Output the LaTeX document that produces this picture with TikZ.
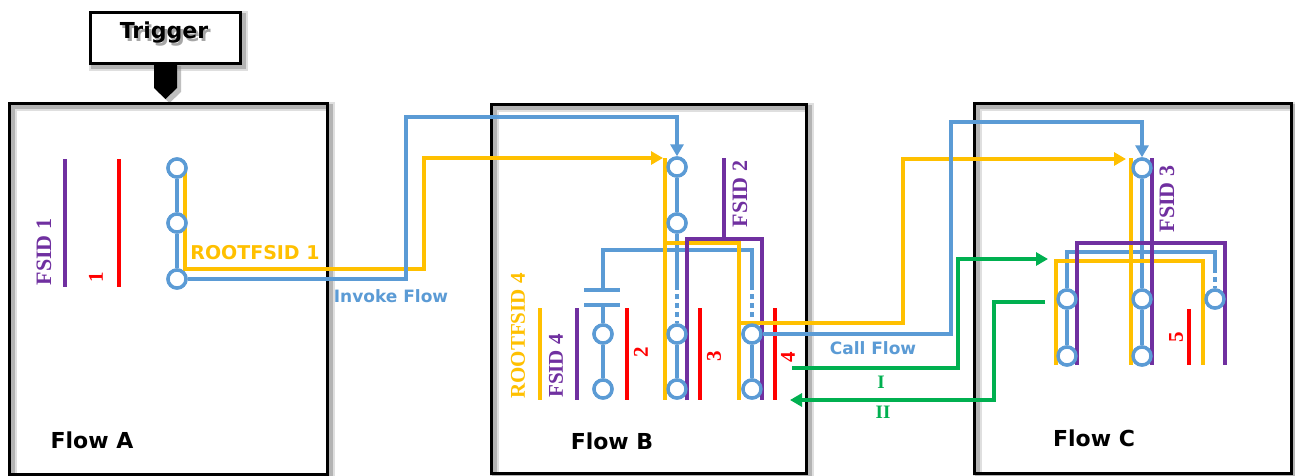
\documentclass[tikz,border=0pt]{standalone}
\usepackage{fontspec}
\setmainfont{DejaVu Sans}
\newfontfamily\serifb{Liberation Serif}
\usetikzlibrary{arrows.meta}
\definecolor{cblue}{HTML}{5B9BD5}
\definecolor{cyel}{HTML}{FFC000}
\definecolor{cpur}{HTML}{7030A0}
\definecolor{cred}{HTML}{FF0000}
\definecolor{cgreen}{HTML}{00B050}
\begin{document}
\begin{tikzpicture}[x=1pt,y=-1pt,
 bl/.style={draw=cblue,line width=3.4pt},
 ye/.style={draw=cyel,line width=3.4pt},
 pu/.style={draw=cpur,line width=3.4pt},
 re/.style={draw=cred,line width=3.4pt},
 gr/.style={draw=cgreen,line width=3.4pt},
 bldash/.style={bl,dash pattern=on 5pt off 4pt},
 ring/.style={circle,draw=cblue,line width=3.4pt,fill=white,minimum size=18pt,inner sep=0pt},
 tipb/.style={-{Triangle[length=12pt,width=13pt]}},
 flowbox/.style={draw=black,line width=3.4pt,inner sep=0pt,anchor=north west},
 shadeA/.style={draw=black!50,line width=9pt,opacity=0.25},
 shadeB/.style={draw=black!50,line width=5pt,opacity=0.45},
 big/.style={font=\fontsize{22}{26}\selectfont\bfseries,inner sep=0pt},
 lab/.style={font=\fontsize{17}{20}\selectfont\bfseries,inner sep=0pt},
 vlab/.style={font=\serifb\fontsize{22}{26}\selectfont\bfseries,inner sep=0pt,rotate=90},
 nlab/.style={font=\serifb\fontsize{21}{24}\selectfont\bfseries,inner sep=0pt,rotate=90},
 glab/.style={font=\serifb\fontsize{19}{22}\selectfont\bfseries,inner sep=0pt,text=cgreen},
]
\useasboundingbox (0,0) rectangle (1295,475);
\fill[white] (0,0) rectangle (1295,475);

% shadows
\foreach \s in {shadeA,shadeB}{
\draw[\s] (12,106) rectangle (330,477);
\draw[\s] (494,107) rectangle (809,476);
\draw[\s] (977,106) rectangle (1294,476);
\draw[\s] (93,15) rectangle (243,66);
}
\fill[black!45,opacity=0.55] (158,66) -- (181,66) -- (181,92) -- (169.5,103) -- (158,92) -- cycle;

% boxes
\node[flowbox,minimum width=318pt,minimum height=371pt] (FA) at (8,102) {};
\node[flowbox,minimum width=315pt,minimum height=369pt] (FB) at (490,103) {};
\node[flowbox,minimum width=317pt,minimum height=370pt] (FC) at (973,102) {};
\node[flowbox,minimum width=150pt,minimum height=51pt,fill=white] (TR) at (89,11) {};
\fill (154,62) -- (177,62) -- (177,88) -- (165.5,99) -- (154,88) -- cycle;
\node[big,text=black!35] at (166.5,35.5) {Trigger};
\node[big] (TT) at (164,33) {Trigger};

% labels
\node[big] (LA) at (92,440) {Flow A};
\node[big] (LB) at (612,441) {Flow B};
\node[big] (LC) at (1094,438) {Flow C};

% ---------------- Flow A
\draw[pu] (65,159) -- (65,287);
\draw[re] (119,159) -- (119,287);
\node[vlab,text=cpur] (fs1) at (44,252) {FSID 1};
\node[nlab,text=cred] (n1) at (96,277) {1};
\node[ring] (A1) at (177,168) {};
\node[ring] (A2) at (177,223) {};
\node[ring] (A3) at (177,279) {};
\draw[bl] (A1) -- (A2);
\draw[bl] (A2) -- (A3);
\node[lab,font=\fontsize{19}{22}\selectfont\bfseries,text=cyel] (r1) at (255,253) {ROOTFSID 1};
\node[lab,text=cblue] (inv) at (391,296) {Invoke Flow};

% ---------------- Flow B (static parts)
\draw[ye] (540,308) -- (540,400);
\draw[pu] (577,308) -- (577,400);
\draw[re] (627,308) -- (627,400);
\draw[re] (700,308) -- (700,400);
\draw[re] (775,308) -- (775,400);
\node[nlab,text=cyel] (r4) at (518,336) {ROOTFSID 4};
\node[nlab,text=cpur] (fs4) at (556,366) {FSID 4};
\node[nlab,text=cred] (n2) at (641,352) {2};
\node[nlab,text=cred] (n3) at (714,356) {3};
\node[nlab,text=cred] (n4) at (788,357) {4};
\node[vlab,text=cpur] (fs2) at (740,194) {FSID 2};

\node[ring] (Bm1) at (677,167) {};
\node[ring] (Bm2) at (677,223) {};
\node[ring] (Bm3) at (677,334) {};
\node[ring] (Bm4) at (677,389) {};
\node[ring] (Bl1) at (603,334) {};
\node[ring] (Bl2) at (603,389) {};
\node[ring] (Br1) at (752,334) {};
\node[ring] (Br2) at (752,389) {};

\coordinate (bmd) at (677,285);
\coordinate (brd) at (752,285);
\draw[bl] (Bm1) -- (Bm2);
\draw[bl] (Bm2) -- (bmd);
\draw[bldash] (bmd) -- (Bm3.north);
\draw[bl] (Bm3) -- (Bm4);
\draw[bl] (Bl1) -- (Bl2);
\draw[bl] (Bl1.north) -- (603,305);
\draw[bl] (584,305) -- (620,305);
\draw[bl] (584,290) -- (620,290);
\draw[bl] (603,290) -- (603,250) -- (brd |- 0,250) -- (brd);
\draw[bldash] (brd) -- (Br1.north);
\draw[bl] (Br1) -- (Br2);

\draw[ye] (665,158) -- (665,400);
\draw[ye] (665,243) -- (739,243) -- (739,400);
\draw[pu] (724,158) -- (724,239);
\draw[pu] (687,400) -- (687,239) -- (762,239) -- (762,400);

% ---------------- Flow C
\node[ring] (Cm1) at (1142,168) {};
\node[ring] (Cm2) at (1142,299) {};
\node[ring] (Cm3) at (1142,356) {};
\node[ring] (Cl1) at (1067,299) {};
\node[ring] (Cl2) at (1067,356) {};
\node[ring] (Cr1) at (1215,299) {};
\coordinate (crd) at (1215,268);
\draw[bl] (Cm1) -- (Cm2);
\draw[bl] (Cm2) -- (Cm3);
\draw[bl] (Cl1) -- (Cl2);
\draw[bl] (Cl1.north) -- (1067,252) -- (1215,252) -- (crd);
\draw[bldash] (crd) -- (Cr1.north);
\draw[ye] (1131,158) -- (1131,365);
\draw[ye] (1056,365) -- (1056,261) -- (1203,261) -- (1203,365);
\draw[pu] (1152,158) -- (1152,365);
\draw[pu] (1077,365) -- (1077,243) -- (1225,243) -- (1225,365);
\draw[re] (1189,309) -- (1189,365);
\node[vlab,text=cpur] (fs3) at (1167,199) {FSID 3};
\node[nlab,text=cred] (n5) at (1176,337) {5};

% ---------------- connectors between flows
\coordinate (ya) at (185,170);
\coordinate (yb) at (663,158);
\draw[ye,tipb] (ya) |- (424,269) |- (yb);
\draw[bl,tipb] (A3.east) -| (406,117) -| (Bm1.north);

\coordinate (yc) at (739,323);
\coordinate (yd) at (1126,159);
\draw[ye,tipb] (yc) -| (903,159) -- (yd);
\draw[bl,tipb] (Br1.east) -| (951,122) -| (Cm1.north);
\node[lab,text=cblue] (cal) at (873,348) {Call Flow};

\coordinate (g1) at (792,368);
\coordinate (g1e) at (1048,259);
\draw[gr,tipb] (g1) -| (958,259) -- (g1e);
\coordinate (g2) at (1045,302);
\coordinate (g2e) at (790,400);
\draw[gr,tipb] (g2) -| (994,400) -- (g2e);
\node[glab] (gI) at (881,382) {I};
\node[glab] (gII) at (883,412) {II};

% redraw rings on top
\foreach \n in {A1,A2,A3,Bm1,Bm2,Bm3,Bm4,Bl1,Bl2,Br1,Br2,Cm1,Cm2,Cm3,Cl1,Cl2,Cr1}
  \draw[draw=cblue,line width=3.4pt,fill=white] (\n.center) circle (9pt);
\end{tikzpicture}
\end{document}
